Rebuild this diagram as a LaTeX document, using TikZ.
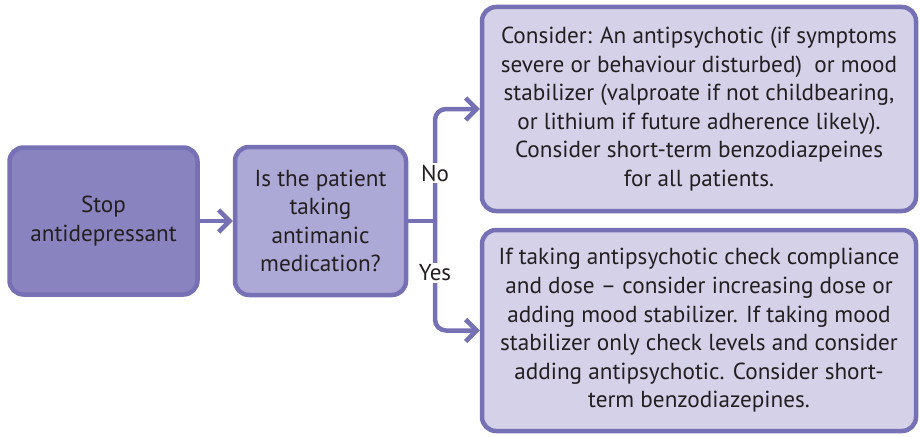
\documentclass[tikz,border=0pt]{standalone}
\usepackage{fontspec}
\setmainfont{PT Sans}
\usetikzlibrary{arrows.meta}
\definecolor{rim}{HTML}{7670B4}
\definecolor{darkfill}{HTML}{8984BF}
\definecolor{midfill}{HTML}{ADA9D6}
\definecolor{palefill}{HTML}{D4D1E9}
\definecolor{ink}{HTML}{231F20}
\begin{document}
\begin{tikzpicture}[x=1pt,y=-1pt,>={Straight Barb[length=11pt,width=22pt]},
  box/.style={draw=rim,line width=4.5pt,rounded corners=14pt,align=center,
    text=ink,font=\fontsize{23.2}{28.6}\selectfont,inner sep=0pt},
  link/.style={draw=rim,line width=4.5pt,rounded corners=11pt},
  tag/.style={fill=white,text=ink,font=\fontsize{23}{26}\selectfont,inner sep=2pt}]
 \useasboundingbox (0,0) rectangle (920,436);
 \node[box,fill=darkfill,minimum width=188pt,minimum height=147pt] (stop) at (103.5,221) {Stop\\antidepressant};
 \node[box,fill=midfill,minimum width=171pt,minimum height=148pt] (ask) at (320.5,221) {Is the patient\\taking\\antimanic\\medication?};
 \node[box,fill=palefill,minimum width=434pt,minimum height=204pt] (nobox) at (699,109)
  {Consider: An antipsychotic (if symptoms\\severe or behaviour disturbed)~ or mood\\stabilizer (valproate if not childbearing,\\or lithium if future adherence likely).\\Consider short-term benzodiazpeines\\for all patients.};
 \node[box,fill=palefill,minimum width=434pt,minimum height=201pt] (yesbox) at (699,330.5)
  {If taking antipsychotic check compliance\\and dose -- consider increasing dose or\\adding mood stabilizer. If taking mood\\stabilizer only check levels and consider\\adding antipsychotic. Consider short-\\term benzodiazepines.};
 \coordinate (fork) at (435,221);
 \draw[link,->] (stop) -- (ask);
 \draw[link] (ask) -- (fork);
 \draw[link,->] (fork) |- (nobox.west);
 \draw[link,->] (fork) |- (yesbox.west);
 \node[tag] (no) at (435,173) {No};
 \node[tag] (yes) at (435,273) {Yes};
\end{tikzpicture}
\end{document}
